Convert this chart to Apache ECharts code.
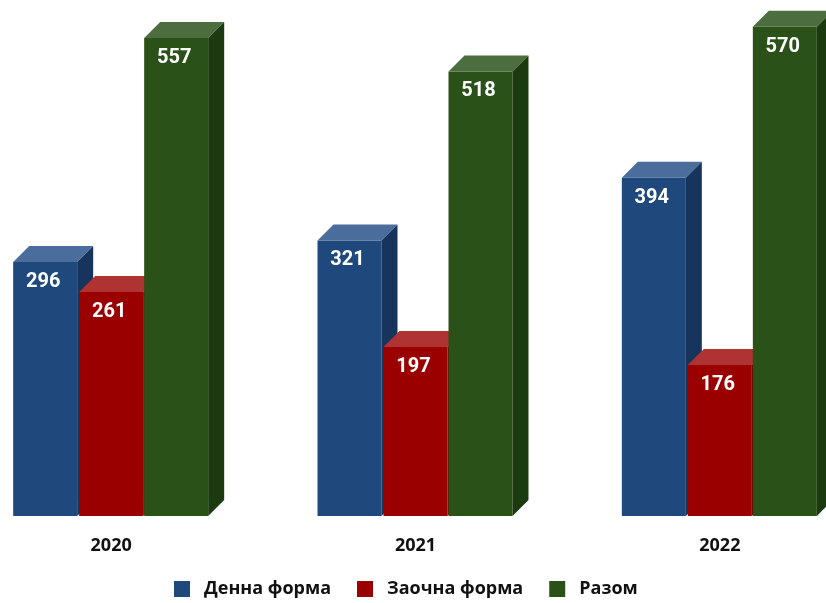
<!DOCTYPE html>
<html>
<head>
<meta charset="utf-8">
<script src="https://cdn.jsdelivr.net/npm/echarts@6/dist/echarts.min.js"></script>
<style>
  html, body { margin: 0; padding: 0; background: #fff; }
  #chart { width: 826px; height: 603px; }
</style>
</head>
<body>
<div id="chart"></div>
<script>
var myChart = echarts.init(document.getElementById('chart'));

// дані
var years = ['2020', '2021', '2022'];
var dailyForm = [296, 321, 394];
var extramuralForm = [261, 197, 176];
var totalForm = [557, 518, 570];

var seriesNames = ['Денна форма', 'Заочна форма', 'Разом'];

// кольори: фасад, верх, бік
var palette = [
  { front: '#1f497d', top: '#4a6d9b', side: '#17355c' },
  { front: '#9a0000', top: '#b03333', side: '#730000' },
  { front: '#2a5117', top: '#4c6e3e', side: '#1c3a0f' }
];
var offsets = [-66, 0, 65];
var barW = 64;
var depth = 16;

function make3dBar(k) {
  return function (params, api) {
    var idx = api.value(0);
    var val = api.value(1);
    var base = api.coord([idx, 0]);
    var top = api.coord([idx, val]);
    var cx = base[0] + offsets[k];
    var x0 = cx - barW / 2, x1 = cx + barW / 2;
    var yt = top[1], yb = base[1];
    var c = palette[k];
    return {
      type: 'group',
      children: [
        { type: 'rect', shape: { x: x0, y: yt, width: barW, height: yb - yt }, style: { fill: c.front } },
        { type: 'polygon', shape: { points: [[x0, yt], [x1, yt], [x1 + depth, yt - depth], [x0 + depth, yt - depth]] }, style: { fill: c.top } },
        { type: 'polygon', shape: { points: [[x1, yt], [x1 + depth, yt - depth], [x1 + depth, yb - depth], [x1, yb]] }, style: { fill: c.side } },
        { type: 'text', style: { text: String(val), x: cx - 2, y: yt + 10, align: 'center', verticalAlign: 'top', fill: '#fff', font: 'bold 20px Roboto' } }
      ]
    };
  };
}

var allValues = [dailyForm, extramuralForm, totalForm];

option = {
  animation: false,
  grid: { left: -41, width: 913, top: 1, bottom: 87, outerBoundsMode: 'none', containLabel: false },
  legend: {
    top: 580,
    left: 174,
    padding: 0,
    icon: 'rect',
    itemWidth: 16,
    itemHeight: 16,
    itemGap: 26,
    textStyle: { fontFamily: 'Open Sans', fontWeight: 'bold', fontSize: 18, color: '#111', padding: [0, 0, 0, 9] },
    data: seriesNames
  },
  xAxis: {
    type: 'category',
    data: years,
    axisLine: { show: false },
    axisTick: { show: false },
    axisLabel: { margin: 21, fontFamily: 'Open Sans', fontWeight: 'bold', fontSize: 18, color: '#111' }
  },
  yAxis: { type: 'value', min: 0, max: 600, show: false },
  series: seriesNames.map(function (name, k) {
    return {
      name: name,
      type: 'custom',
      itemStyle: { color: palette[k].front },
      renderItem: make3dBar(k),
      encode: { x: 0, y: 1 },
      data: allValues[k].map(function (v, i) { return [i, v]; })
    };
  })
};

myChart.setOption(option);
</script>
</body>
</html>
